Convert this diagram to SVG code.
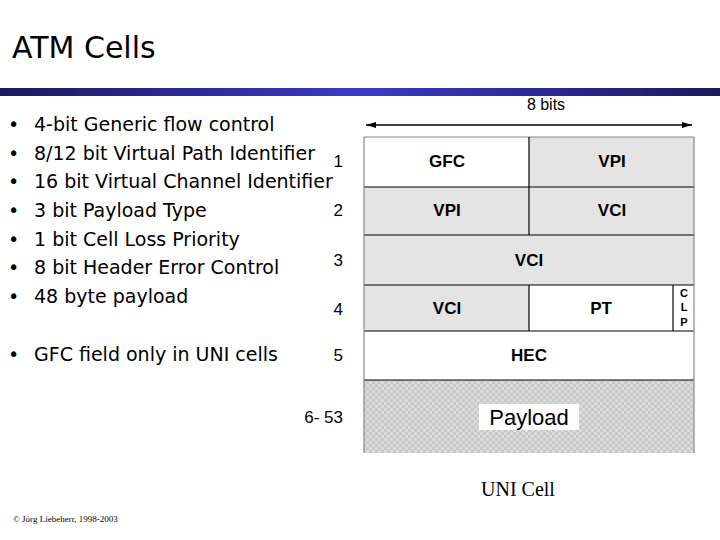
<svg xmlns="http://www.w3.org/2000/svg" width="720" height="540" viewBox="0 0 720 540">
<defs>
<linearGradient id="bar" x1="0" x2="1" y1="0" y2="0">
<stop offset="0" stop-color="#1a1a5e"/><stop offset="0.5" stop-color="#3a3ac8"/><stop offset="1" stop-color="#1a1a5e"/>
</linearGradient>
<pattern id="chk" width="6" height="6" patternUnits="userSpaceOnUse">
<rect width="6" height="6" fill="#c8c8c8"/><rect width="3" height="3" fill="#dcdcdc"/><rect x="3" y="3" width="3" height="3" fill="#dcdcdc"/>
</pattern>
<marker id="ah" markerWidth="10" markerHeight="6" refX="10" refY="3" orient="auto-start-reverse" markerUnits="userSpaceOnUse">
<path d="M0,0 L10,3 L0,6 z" fill="#000"/>
</marker>
</defs>
<style>
.t{font-family:"DejaVu Sans",sans-serif;font-size:19px;fill:#000}
.f{font-family:"Liberation Sans",Arial,sans-serif;font-weight:bold;font-size:17px;text-anchor:middle;fill:#000}
.n{font-family:"Liberation Sans",Arial,sans-serif;font-size:17px;text-anchor:end;fill:#000}
.c{stroke:#000;stroke-width:1.2}
</style>
<rect width="720" height="540" fill="#fff"/>
<text x="12" y="58" style="font-family:'DejaVu Sans',sans-serif;font-size:30px">ATM Cells</text>
<rect x="0" y="88" width="720" height="8" fill="url(#bar)"/>
<g id="bullets" class="t">
<text x="8" y="131">•</text><text x="34" y="131">4-bit Generic flow control</text>
<text x="8" y="160">•</text><text x="34" y="160">8/12 bit Virtual Path Identifier</text>
<text x="8" y="188">•</text><text x="34" y="188">16 bit Virtual Channel Identifier</text>
<text x="8" y="217">•</text><text x="34" y="217">3 bit Payload Type</text>
<text x="8" y="246">•</text><text x="34" y="246">1 bit Cell Loss Priority</text>
<text x="8" y="274">•</text><text x="34" y="274">8 bit Header Error Control</text>
<text x="8" y="303">•</text><text x="34" y="303">48 byte payload</text>
<text x="8" y="361">•</text><text x="34" y="361">GFC field only in UNI cells</text>
</g>
<g id="connectors">
<line x1="366" y1="125" x2="692" y2="125" stroke="#000" stroke-width="1.5" marker-start="url(#ah)" marker-end="url(#ah)"/>
</g>
<text x="546" y="110" style="font-family:'Liberation Sans',Arial,sans-serif;font-size:16px;text-anchor:middle">8 bits</text>
<g id="cell">
<rect x="364" y="137" width="165" height="50" fill="#fff"/>
<rect x="529" y="137" width="165" height="50" fill="#e4e4e4"/>
<rect x="364" y="187" width="330" height="98" fill="#e4e4e4"/>
<rect x="364" y="285" width="165" height="46" fill="#e4e4e4"/>
<rect x="529" y="285" width="165" height="46" fill="#fff"/>
<rect x="364" y="331" width="330" height="49" fill="#fff"/>
<rect x="364" y="380" width="330" height="73" fill="url(#chk)"/>
<g class="c" fill="none">
<line x1="364" y1="137" x2="694" y2="137" stroke="#888"/>
<line x1="364" y1="187" x2="694" y2="187"/>
<line x1="364" y1="235" x2="694" y2="235"/>
<line x1="364" y1="285" x2="694" y2="285"/>
<line x1="364" y1="331" x2="694" y2="331"/>
<line x1="364" y1="380" x2="694" y2="380"/>
<line x1="364" y1="137" x2="364" y2="453" stroke="#888"/>
<line x1="694" y1="137" x2="694" y2="453" stroke="#888"/>
<line x1="529" y1="137" x2="529" y2="235"/>
<line x1="529" y1="285" x2="529" y2="331"/>
<line x1="673" y1="285" x2="673" y2="331"/>
</g>
<text class="f" x="447" y="167">GFC</text>
<text class="f" x="612" y="167">VPI</text>
<text class="f" x="447" y="216">VPI</text>
<text class="f" x="612" y="216">VCI</text>
<text class="f" x="529" y="266">VCI</text>
<text class="f" x="447" y="314">VCI</text>
<text class="f" x="601" y="314">PT</text>
<g style="font-family:'Liberation Sans',Arial,sans-serif;font-weight:bold;font-size:11px;text-anchor:middle">
<text x="684" y="297">C</text><text x="684" y="311">L</text><text x="684" y="326">P</text>
</g>
<text class="f" x="529" y="361">HEC</text>
<rect x="479" y="404" width="100" height="26" fill="#fff"/>
<text x="529" y="425" style="font-family:'Liberation Sans',Arial,sans-serif;font-size:22px;text-anchor:middle">Payload</text>
</g>
<g id="rownums" class="n">
<text x="343" y="167">1</text>
<text x="343" y="216">2</text>
<text x="343" y="266">3</text>
<text x="343" y="315">4</text>
<text x="343" y="361">5</text>
<text x="343" y="423">6- 53</text>
</g>
<text x="518" y="496" style="font-family:'Liberation Serif',serif;font-size:20px;text-anchor:middle">UNI Cell</text>
<text x="13" y="522" style="font-family:'Liberation Serif',serif;font-size:9px">© Jörg Liebeherr, 1998-2003</text>
</svg>
